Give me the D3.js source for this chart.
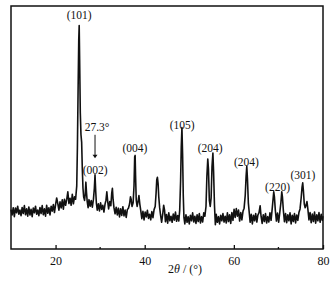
<!DOCTYPE html>
<html lang="en">
<head>
<meta charset="UTF-8">
<title>XRD</title>
<script src="https://d3js.org/d3.v7.min.js"></script>
<style>
    body { margin: 0; background: #fff; }
    svg { display: block; }
    text { font-family: "Liberation Serif", "DejaVu Serif", serif; fill: #111; }
</style>
</head>
<body>
<svg width="333" height="281"></svg>
<script>
    // scan: [2theta, intensity (a.u.)]
    const scan = [
        [10.00,162],[10.25,140],[10.50,170],[10.75,133],[11.00,169],[11.25,149],[11.50,176],[11.75,143],
        [12.00,160],[12.25,137],[12.50,171],[12.75,146],[13.00,179],[13.25,141],[13.50,165],[13.75,135],
        [14.00,173],[14.25,140],[14.50,163],[14.75,133],[15.00,169],[15.25,149],[15.50,176],[15.75,143],
        [16.00,160],[16.25,137],[16.50,171],[16.75,146],[17.00,179],[17.25,141],[17.50,165],[17.75,135],
        [18.00,180],[18.25,147],[18.50,170],[18.75,140],[19.00,176],[19.25,156],[19.50,183],[19.75,150],
        [20.00,183],[20.25,210],[20.50,187],[20.75,160],[21.00,194],[21.25,169],[21.50,202],[21.75,164],
        [22.00,205],[22.25,180],[22.50,203],[22.75,235],[23.00,187],[23.25,209],[23.50,180],[23.75,225],
        [24.00,186],[24.25,215],[24.50,205],[24.75,260],[24.90,420],[25.05,650],[25.20,860],[25.30,920],
        [25.40,780],[25.55,560],[25.70,470],[25.85,440],[26.00,330],[26.15,250],[26.30,215],[26.50,200],
        [26.65,225],[26.80,275],[26.95,230],[27.10,195],[27.30,170],[27.50,203],[27.75,176],[28.00,199],
        [28.25,172],[28.50,205],[28.70,250],[28.85,305],[29.00,240],[29.15,190],[29.35,160],[29.60,186],
        [29.85,157],[30.10,190],[30.35,163],[30.60,180],[30.85,152],[31.10,185],[31.30,200],[31.50,235],
        [31.70,195],[31.90,165],[32.15,195],[32.40,178],[32.60,230],[32.75,250],[32.90,205],[33.10,170],
        [33.35,145],[33.60,172],[33.85,140],[34.10,168],[34.35,132],[34.60,165],[34.85,138],[35.10,174],
        [35.35,136],[35.60,160],[35.85,130],[36.10,162],[36.35,168],[36.60,185],[36.80,215],[36.95,205],
        [37.15,175],[37.40,190],[37.60,260],[37.75,380],[37.85,385],[37.95,300],[38.10,200],[38.30,175],
        [38.50,195],[38.70,220],[38.90,185],[39.10,160],[39.35,125],[39.60,155],[39.85,120],[40.10,152],
        [40.35,132],[40.60,159],[40.85,126],[41.10,143],[41.35,120],[41.60,154],[41.85,129],[42.10,162],
        [42.35,175],[42.55,230],[42.70,285],[42.85,295],[43.00,270],[43.15,215],[43.35,170],[43.55,140],
        [43.80,110],[44.05,145],[44.25,180],[44.45,160],[44.65,112],[44.90,142],[45.15,106],[45.40,149],
        [45.65,116],[45.90,135],[46.15,110],[46.40,144],[46.65,119],[46.90,152],[47.15,114],[47.40,138],
        [47.65,115],[47.85,160],[48.05,280],[48.20,420],[48.35,500],[48.50,390],[48.65,220],[48.80,130],
        [49.00,103],[49.25,141],[49.50,110],[49.75,133],[50.00,103],[50.25,139],[50.50,116],[50.75,149],
        [51.00,111],[51.25,135],[51.50,105],[51.75,141],[52.00,113],[52.25,146],[52.50,107],[52.75,133],
        [53.00,111],[53.25,149],[53.50,135],[53.75,175],[53.95,300],[54.15,370],[54.30,330],[54.50,200],
        [54.70,175],[54.90,210],[55.10,340],[55.30,395],[55.45,320],[55.65,180],[55.85,100],[56.05,143],
        [56.30,110],[56.55,133],[56.80,103],[57.05,139],[57.30,116],[57.55,146],[57.80,111],[58.05,135],
        [58.30,107],[58.55,149],[58.80,113],[59.05,141],[59.30,105],[59.55,150],[59.80,118],[60.05,163],
        [60.30,130],[60.55,166],[60.80,135],[61.05,160],[61.30,115],[61.55,150],[61.80,120],[62.05,155],
        [62.30,168],[62.55,220],[62.75,300],[62.90,340],[63.05,290],[63.25,190],[63.45,150],[63.65,110],
        [63.90,143],[64.15,103],[64.40,139],[64.65,116],[64.90,146],[65.15,111],[65.40,140],[65.65,150],
        [65.90,178],[66.10,135],[66.35,105],[66.60,141],[66.85,113],[67.10,146],[67.35,107],[67.60,133],
        [67.85,111],[68.10,149],[68.35,118],[68.60,165],[68.80,205],[68.95,235],[69.10,215],[69.30,160],
        [69.55,115],[69.80,148],[70.05,110],[70.30,150],[70.55,190],[70.75,235],[70.90,215],[71.10,160],
        [71.35,112],[71.60,146],[71.85,108],[72.10,141],[72.35,116],[72.60,149],[72.85,103],[73.10,139],
        [73.35,113],[73.60,146],[73.85,107],[74.10,140],[74.35,118],[74.60,150],[74.85,165],[75.10,210],
        [75.30,255],[75.45,272],[75.60,240],[75.80,185],[76.00,170],[76.20,180],[76.40,195],[76.60,165],
        [76.85,120],[77.10,150],[77.35,108],[77.60,144],[77.85,113],[78.10,152],[78.35,106],[78.60,141],
        [78.85,116],[79.10,150],[79.35,110],[79.60,143],[79.85,118],[80.00,135]
    ];

    // peak labels: text, 2theta, intensity where the label sits
    const peakLabels = ["(101)", "(002)", "(004)", "(105)", "(204)", "(204)", "(220)", "(301)"];
    const peakAngles = [25.3, 28.9, 37.8, 48.4, 54.7, 62.8, 69.8, 75.5];
    const peakLabelLevels = [945, 310, 400, 492, 400, 340, 240, 290];

    const majorTicks = [20, 40, 60, 80];
    const minorTicks = [30, 50, 70];

    const svg = d3.select("svg");

    const x = d3.scaleLinear().domain([10, 80]).range([11, 323]);
    const y = d3.scaleLinear().domain([0, 1000]).range([249, 6]);

    // data line
    const line = d3.line()
        .x(d => x(d[0]))
        .y(d => y(d[1]));

    svg.append("path")
        .datum(scan)
        .attr("d", line)
        .attr("fill", "none")
        .attr("stroke", "#111")
        .attr("stroke-width", 1.6)
        .attr("stroke-linejoin", "round");

    // frame
    svg.append("rect")
        .attr("x", x(10))
        .attr("y", y(1000))
        .attr("width", x(80) - x(10))
        .attr("height", y(0) - y(1000))
        .attr("fill", "none")
        .attr("stroke", "#111")
        .attr("stroke-width", 1.5);

    // ticks point inward
    const xAxis = d3.axisBottom(x)
        .tickValues(majorTicks)
        .tickSize(-4)
        .tickPadding(7)
        .tickFormat(d3.format("d"));

    const gx = svg.append("g")
        .attr("transform", `translate(0,${y(0)})`)
        .call(xAxis);
    gx.select(".domain").remove();
    gx.selectAll("line").attr("stroke", "#111").attr("stroke-width", 1.3);
    gx.selectAll("text")
        .attr("font-family", "Liberation Serif, serif")
        .attr("font-size", 12)
        .attr("fill", "#111");

    svg.selectAll(".minor")
        .data(minorTicks)
        .enter().append("line")
        .attr("class", "minor")
        .attr("x1", d => x(d))
        .attr("x2", d => x(d))
        .attr("y1", y(0))
        .attr("y2", y(0) - 2)
        .attr("stroke", "#111")
        .attr("stroke-width", 1.3);

    // axis title
    const title = svg.append("text")
        .attr("x", 185)
        .attr("y", 273)
        .attr("text-anchor", "middle")
        .attr("font-size", 12);
    title.append("tspan").text("2");
    title.append("tspan").attr("font-style", "italic").text("θ");
    title.append("tspan").text(" / (°)");

    // peak labels
    svg.selectAll(".peak")
        .data(peakLabels)
        .enter().append("text")
        .attr("class", "peak")
        .attr("x", (d, i) => x(peakAngles[i]))
        .attr("y", (d, i) => y(peakLabelLevels[i]))
        .attr("text-anchor", "middle")
        .attr("font-size", 11.5)
        .text(d => d);

    // 27.3° marker with arrow
    const arrowAt = 28.85;
    svg.append("text")
        .attr("x", x(arrowAt) + 2)
        .attr("y", y(485))
        .attr("text-anchor", "middle")
        .attr("font-size", 11.5)
        .text("27.3°");

    svg.append("line")
        .attr("x1", x(arrowAt))
        .attr("x2", x(arrowAt))
        .attr("y1", y(470))
        .attr("y2", y(380))
        .attr("stroke", "#111")
        .attr("stroke-width", 1);

    svg.append("path")
        .attr("d", `M${x(arrowAt) - 2.5},${y(388)} L${x(arrowAt)},${y(373)} L${x(arrowAt) + 2.5},${y(388)} Z`)
        .attr("fill", "#111");
</script>
</body>
</html>
